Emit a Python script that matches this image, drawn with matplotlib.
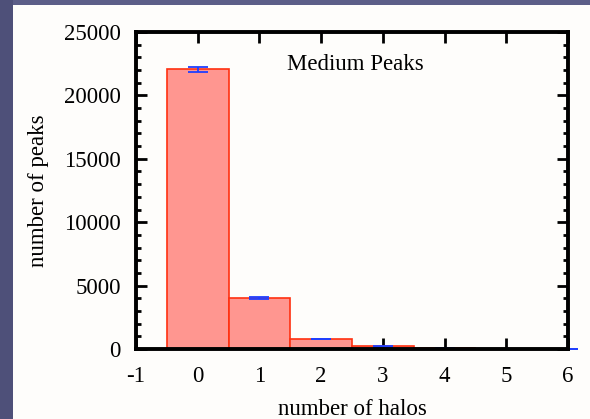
import matplotlib
matplotlib.use("Agg")
import matplotlib.pyplot as plt
from matplotlib.patches import Rectangle
from matplotlib.ticker import MultipleLocator
import numpy as np

# Data
halos = [0, 1, 2, 3, 4, 5, 6]
peaks = [22050, 4050, 780, 200, 60, 30, 0]
errors = [200, 80, 30, 15, 10, 6, 0]

plt.rcParams["font.family"] = ["Liberation Serif", "DejaVu Serif"]
plt.rcParams["font.size"] = 16.5
plt.rcParams["axes.unicode_minus"] = False

fig = plt.figure(figsize=(5.9, 4.19), dpi=100)
fig.patch.set_facecolor("#5c5e88")
fig.patches.append(Rectangle((13 / 590, 0), 577 / 590, 414 / 419,
                             transform=fig.transFigure, facecolor="#fefdfb",
                             edgecolor="none", zorder=-2))
fig.patches.append(Rectangle((0, 0), 13 / 590, 1, transform=fig.transFigure,
                             facecolor="#4e5079", edgecolor="none", zorder=-2))

ax = fig.add_axes([136 / 590, 1 - 349 / 419, 432 / 590, 317 / 419])
ax.set_facecolor("#fefdfb")

ax.bar(halos, peaks, width=1.0, color="#ff9690", edgecolor="#ff3010",
       linewidth=1.2, zorder=2)
ax.errorbar(halos, peaks, yerr=errors, fmt="none", ecolor="#1f3fff",
            elinewidth=1.3, capsize=7, capthick=1.3, zorder=3, clip_on=False)

ax.set_xlim(-1, 6)
ax.set_ylim(0, 25000)
ax.xaxis.set_major_locator(MultipleLocator(1))
ax.yaxis.set_major_locator(MultipleLocator(5000))
ax.yaxis.set_minor_locator(MultipleLocator(1000))
ax.tick_params(which="both", direction="in", top=True, right=True, width=2)
ax.tick_params(which="major", length=8)
ax.tick_params(which="minor", length=3.6)
ax.tick_params(axis="x", pad=12)
ax.tick_params(axis="y", pad=11)
for s in ax.spines.values():
    s.set_linewidth(2.8)
    s.set_zorder(4)

ax.set_xlabel("number of halos", labelpad=9)
ax.set_ylabel("number of peaks", labelpad=11)
ax.text(0.507, 0.896, "Medium Peaks", transform=ax.transAxes, ha="center",
        va="center")

plt.savefig("out.png", dpi=100, facecolor=fig.get_facecolor())
